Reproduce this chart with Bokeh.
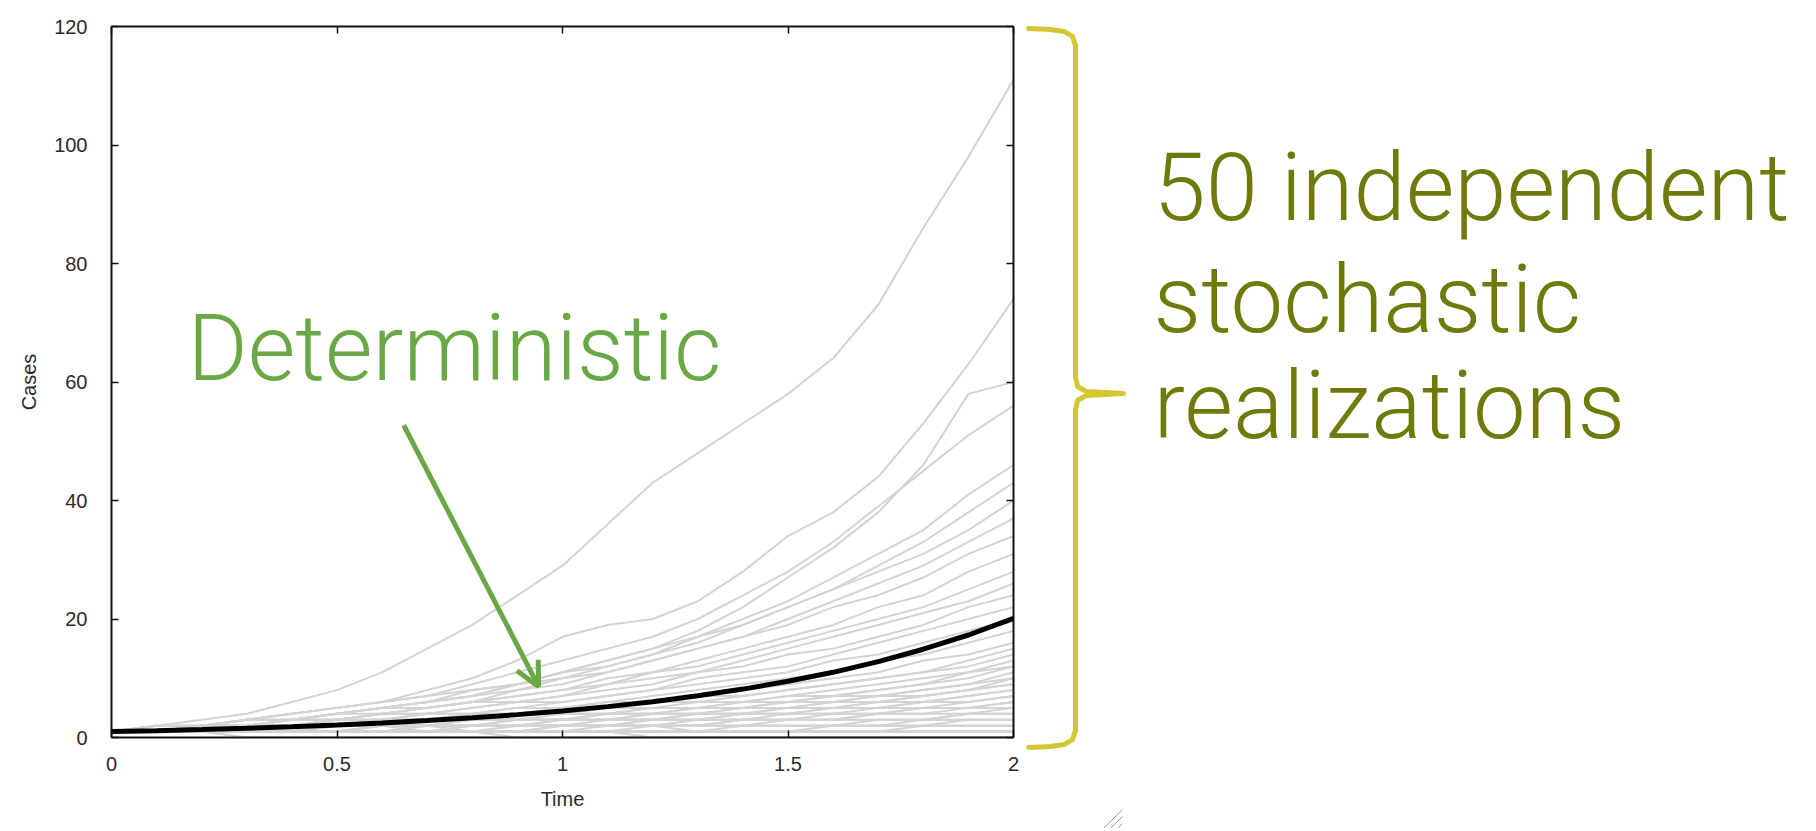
from bokeh.plotting import figure
from bokeh.layouts import row, column
from bokeh.models import (Range1d, FixedTicker, LinearAxis, Label, Arrow, OpenHead,
                          CustomJSTickFormatter)
from bokeh.embed import file_html
from bokeh.resources import INLINE

# ---------------- data ----------------
time_points = [0.0, 0.1, 0.2, 0.3, 0.4, 0.5, 0.6, 0.7, 0.8, 0.9, 1.0,
               1.1, 1.2, 1.3, 1.4, 1.5, 1.6, 1.7, 1.8, 1.9, 2.0]

deterministic_cases = [1.00, 1.16, 1.35, 1.57, 1.82, 2.12, 2.46, 2.86, 3.32, 3.86, 4.48,
                       5.21, 6.05, 7.03, 8.17, 9.49, 11.0, 12.8, 14.9, 17.3, 20.1]

stochastic_runs = [
    [1, 2, 3, 4, 6, 8, 11, 15, 19, 24, 29, 36, 43, 48, 53, 58, 64, 73, 86, 98, 111],
    [1, 1, 2, 3, 4, 5, 6, 8, 10, 13, 17, 19, 20, 23, 28, 34, 38, 44, 53, 63, 74],
    [1, 1, 2, 2, 3, 4, 5, 6, 7, 9, 11, 13, 15, 18, 22, 27, 32, 38, 46, 58, 60],
    [1, 2, 2, 3, 4, 5, 6, 7, 9, 11, 13, 15, 17, 20, 24, 28, 33, 39, 45, 51, 56],
    [1, 1, 2, 3, 3, 4, 5, 6, 7, 9, 10, 12, 14, 17, 20, 23, 27, 31, 35, 41, 46],
    [1, 1, 1, 2, 3, 4, 5, 6, 8, 9, 11, 13, 15, 17, 19, 22, 25, 29, 33, 38, 43],
    [1, 2, 2, 3, 4, 5, 6, 7, 8, 9, 11, 12, 14, 16, 19, 22, 25, 28, 31, 35, 40],
    [1, 1, 2, 2, 3, 4, 4, 5, 6, 8, 9, 11, 13, 15, 17, 20, 23, 26, 29, 33, 37],
    [1, 1, 2, 3, 3, 4, 5, 6, 7, 8, 10, 11, 13, 15, 17, 19, 22, 24, 27, 31, 34],
    [1, 1, 1, 2, 3, 3, 4, 5, 6, 7, 8, 10, 11, 13, 15, 17, 19, 22, 24, 28, 31],
    [1, 2, 2, 3, 3, 4, 5, 5, 6, 7, 8, 9, 11, 12, 14, 16, 18, 20, 22, 25, 28],
    [1, 1, 2, 2, 3, 3, 4, 5, 6, 6, 7, 9, 10, 11, 13, 15, 17, 19, 21, 23, 26],
    [1, 1, 1, 2, 2, 3, 4, 4, 5, 6, 7, 8, 9, 11, 12, 14, 15, 17, 19, 22, 24],
    [1, 1, 2, 2, 3, 3, 4, 4, 5, 6, 6, 7, 8, 10, 11, 12, 14, 16, 18, 20, 22],
    [1, 1, 1, 2, 2, 3, 3, 4, 4, 5, 6, 7, 8, 9, 10, 11, 13, 14, 16, 18, 20],
    [1, 1, 2, 2, 2, 3, 3, 4, 4, 5, 5, 6, 7, 8, 9, 10, 11, 13, 14, 16, 18],
    [1, 1, 1, 1, 2, 2, 3, 3, 4, 4, 5, 6, 6, 7, 8, 9, 10, 11, 13, 14, 16],
    [1, 1, 1, 2, 2, 2, 3, 3, 3, 4, 4, 5, 6, 6, 7, 8, 9, 10, 11, 13, 15],
    [1, 1, 2, 2, 2, 3, 3, 3, 4, 4, 5, 5, 6, 7, 7, 8, 9, 10, 11, 12, 14],
    [1, 1, 1, 2, 2, 2, 3, 3, 3, 4, 4, 5, 5, 6, 6, 7, 8, 9, 10, 11, 13],
    [1, 1, 1, 1, 2, 2, 2, 3, 3, 3, 4, 4, 5, 5, 6, 7, 7, 8, 9, 10, 12],
    [1, 1, 2, 2, 2, 2, 3, 3, 3, 4, 4, 4, 5, 5, 6, 6, 7, 8, 9, 11, 12],
    [1, 1, 1, 1, 1, 2, 2, 2, 3, 3, 3, 4, 4, 5, 5, 6, 7, 7, 8, 9, 11],
    [1, 1, 1, 2, 2, 2, 2, 3, 3, 3, 3, 4, 4, 5, 5, 6, 6, 7, 8, 9, 10],
    [1, 1, 1, 1, 2, 2, 2, 2, 3, 3, 3, 4, 4, 4, 5, 5, 6, 7, 7, 8, 10],
    [1, 1, 1, 1, 1, 2, 2, 2, 2, 3, 3, 3, 4, 4, 4, 5, 5, 6, 7, 8, 9],
    [1, 1, 1, 2, 2, 2, 2, 2, 3, 3, 3, 3, 4, 4, 5, 5, 6, 6, 7, 8, 9],
    [1, 1, 1, 1, 1, 1, 2, 2, 2, 2, 3, 3, 3, 4, 4, 4, 5, 5, 6, 7, 8],
    [1, 1, 1, 1, 2, 2, 2, 2, 2, 3, 3, 3, 3, 4, 4, 5, 5, 6, 6, 7, 8],
    [1, 1, 1, 1, 1, 1, 1, 2, 2, 2, 2, 3, 3, 3, 4, 4, 4, 5, 5, 6, 7],
    [1, 1, 1, 1, 1, 2, 2, 2, 2, 2, 3, 3, 3, 3, 4, 4, 5, 5, 6, 6, 7],
    [1, 1, 1, 1, 1, 1, 1, 1, 2, 2, 2, 2, 3, 3, 3, 3, 4, 4, 5, 5, 6],
    [1, 1, 1, 1, 1, 1, 2, 2, 2, 2, 2, 2, 3, 3, 3, 4, 4, 4, 5, 5, 6],
    [1, 1, 1, 1, 1, 1, 1, 1, 1, 2, 2, 2, 2, 2, 3, 3, 3, 4, 4, 4, 5],
    [1, 1, 1, 1, 1, 1, 1, 2, 2, 2, 2, 2, 2, 3, 3, 3, 3, 4, 4, 5, 5],
    [1, 1, 1, 1, 1, 1, 1, 1, 1, 1, 2, 2, 2, 2, 2, 3, 3, 3, 3, 4, 4],
    [1, 1, 1, 1, 1, 1, 1, 1, 2, 2, 2, 2, 2, 2, 3, 3, 3, 3, 3, 4, 4],
    [1, 1, 1, 1, 1, 1, 1, 1, 1, 1, 1, 1, 2, 2, 2, 2, 2, 2, 3, 3, 3],
    [1, 1, 1, 1, 1, 1, 1, 1, 1, 1, 2, 2, 2, 2, 2, 2, 2, 3, 3, 3, 3],
    [1, 1, 1, 1, 1, 1, 1, 1, 1, 1, 1, 1, 1, 1, 2, 2, 2, 2, 2, 3, 3],
    [1, 1, 1, 1, 1, 1, 1, 1, 1, 1, 1, 1, 1, 1, 1, 1, 2, 2, 2, 2, 2],
    [1, 1, 1, 1, 1, 1, 1, 1, 1, 1, 1, 2, 2, 2, 2, 2, 2, 2, 2, 2, 2],
    [1, 1, 1, 1, 1, 1, 1, 1, 1, 1, 1, 1, 1, 1, 1, 1, 1, 1, 2, 2, 2],
    [1, 1, 1, 1, 1, 1, 1, 1, 1, 1, 1, 1, 1, 1, 1, 1, 1, 1, 1, 1, 1],
    [1, 1, 1, 1, 1, 1, 1, 1, 1, 1, 1, 1, 1, 1, 1, 1, 1, 1, 1, 1, 1],
    [1, 1, 1, 1, 1, 1, 2, 2, 2, 2, 2, 2, 2, 1, 1, 1, 1, 1, 1, 1, 1],
    [1, 1, 1, 1, 2, 2, 2, 2, 1, 1, 1, 1, 1, 1, 1, 1, 1, 1, 1, 1, 1],
    [1, 1, 1, 1, 1, 1, 1, 1, 1, 0, 0, 0, 0, 0, 0, 0, 0, 0, 0, 0, 0],
    [1, 1, 1, 0, 0, 0, 0, 0, 0, 0, 0, 0, 0, 0, 0, 0, 0, 0, 0, 0, 0],
    [1, 1, 1, 1, 1, 2, 2, 1, 1, 1, 1, 1, 0, 0, 0, 0, 0, 0, 0, 0, 0],
]

x_ticks = [0, 0.5, 1, 1.5, 2]
x_tick_labels = ["0", "0.5", "1", "1.5", "2"]
y_ticks = [0, 20, 40, 60, 80, 100, 120]
y_tick_labels = ["0", "20", "40", "60", "80", "100", "120"]

annotation_text = "Deterministic"
brace_text_lines = ["50 independent", "stochastic", "realizations"]

# ---------------- main chart ----------------
p = figure(width=1024, height=828, x_range=Range1d(0, 2), y_range=Range1d(0, 120),
           output_backend="svg", toolbar_location=None,
           min_border_left=111, min_border_right=11, min_border_top=26, min_border_bottom=91,
           x_axis_label="Time", y_axis_label="Cases")
p.outline_line_color = None
p.grid.visible = False
p.background_fill_color = "white"
p.border_fill_color = "white"

TICK_FONT = "Liberation Sans"

for run in stochastic_runs:
    p.line(time_points, run, line_color="#d3d3d3", line_width=2)

p.line(time_points, deterministic_cases, line_color="black", line_width=5)

bottom_axis = p.below[0]
left_axis = p.left[0]
bottom_axis.ticker = FixedTicker(ticks=x_ticks)
left_axis.ticker = FixedTicker(ticks=y_ticks)
bottom_axis.major_label_overrides = dict(zip(x_ticks, x_tick_labels))
left_axis.major_label_overrides = dict(zip(y_ticks, y_tick_labels))

top_axis = LinearAxis(ticker=FixedTicker(ticks=x_ticks),
                      formatter=CustomJSTickFormatter(code="return ''"))
right_axis = LinearAxis(ticker=FixedTicker(ticks=y_ticks),
                        formatter=CustomJSTickFormatter(code="return ''"))
p.add_layout(top_axis, "above")
p.add_layout(right_axis, "right")

for ax in [bottom_axis, left_axis, top_axis, right_axis]:
    ax.axis_line_color = "#111111"
    ax.axis_line_width = 2
    ax.major_tick_line_color = "#111111"
    ax.major_tick_line_width = 1.5
    ax.major_tick_in = 7
    ax.major_tick_out = 0
    ax.minor_tick_line_color = None
    ax.major_label_text_font = TICK_FONT
    ax.major_label_text_font_size = "20px"
    ax.major_label_text_color = "#2a2a2a"
    ax.axis_label_text_font = TICK_FONT
    ax.axis_label_text_font_size = "20px"
    ax.axis_label_text_font_style = "normal"
    ax.axis_label_text_color = "#2a2a2a"

bottom_axis.major_label_standoff = 19
bottom_axis.axis_label_standoff = 14
left_axis.major_label_standoff = 24
left_axis.axis_label_standoff = 11
top_axis.major_label_standoff = 0
right_axis.major_label_standoff = 0

GREEN = "#6aa846"
OLIVE = "#6f7a0b"
YELLOW = "#d4c832"
ANN_FONT = "Roboto Light"

p.add_layout(Label(x=0.1685, y=65.6, text=annotation_text, text_font=ANN_FONT,
                   text_font_size="92px", text_color=GREEN,
                   text_align="left", text_baseline="alphabetic"))

p.add_layout(Arrow(x_start=0.648, y_start=52.7, x_end=0.947, y_end=8.6,
                   line_color=GREEN, line_width=5,
                   end=OpenHead(size=24, line_color=GREEN, line_width=5)))

# ---------------- annotation panel on the right (pixel-like units, y downward) ----------------
q = figure(width=786, height=828, x_range=Range1d(0, 786), y_range=Range1d(828, 0),
           output_backend="svg", toolbar_location=None,
           min_border=0, x_axis_type=None, y_axis_type=None)
q.outline_line_color = None
q.grid.visible = False
q.background_fill_color = "white"
q.border_fill_color = "white"

brace_x = [4, 26, 40, 48, 51, 51, 53, 62, 99, 62, 53, 51, 51, 48, 40, 26, 4]
brace_y = [28, 29, 31, 36, 45, 376, 386, 391, 393, 395, 400, 410, 730, 739, 744, 746, 747]
q.line(brace_x, brace_y, line_color=YELLOW, line_width=5, line_join="round", line_cap="round")

for line_text, y_anchor in zip(brace_text_lines, [187, 299, 405]):
    q.add_layout(Label(x=129, y=y_anchor, text=line_text, text_font=ANN_FONT,
                       text_font_size="94px", text_color=OLIVE,
                       text_align="left", text_baseline="alphabetic"))

# window resize grip from the screenshot corner
q.segment(x0=[78, 85, 92], y0=[829, 829, 829], x1=[98, 98, 98], y1=[809, 816, 823],
          line_color="#9a9a9a", line_width=1)

layout = row(p, column(q))
open("out.html", "w").write(file_html(layout, INLINE))
